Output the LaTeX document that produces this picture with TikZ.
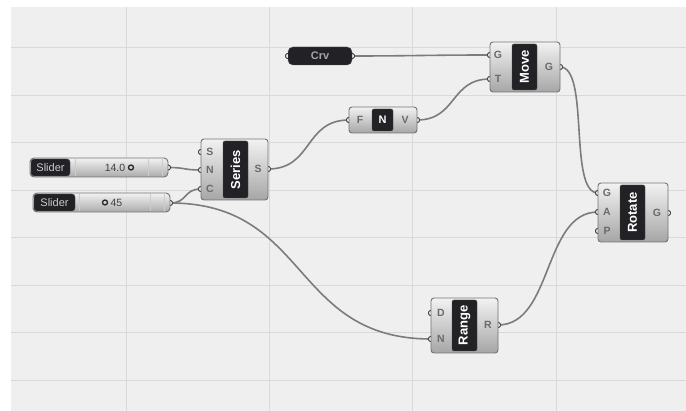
\documentclass[tikz,border=0pt]{standalone}
\usepackage{fontspec}
\setmainfont{Liberation Sans}
\definecolor{canvas}{HTML}{EFEFEF}
\definecolor{gridc}{HTML}{D9D9D9}
\definecolor{wirec}{HTML}{7C7C7C}
\definecolor{stripc}{HTML}{222226}
\definecolor{portlbl}{HTML}{6A6A6A}
\begin{document}
\begin{tikzpicture}[x=1pt,y=-1pt,
  wire/.style={draw=wirec,line width=1.6pt},
  gridline/.style={draw=gridc,line width=1pt},
  port/.style={circle,draw=black!80,fill=white,minimum size=5pt,inner sep=0pt,line width=0.8pt},
  gbox/.style={draw=black!55,rounded corners=3pt,top color=black!5,bottom color=black!35,line width=0.9pt,inner sep=0pt},
  strip/.style={draw=black!70,fill=stripc,rounded corners=2pt,inner sep=0pt},
  striptext/.style={text=white,font=\fontsize{13}{13}\selectfont\bfseries,inner sep=0pt},
  plbl/.style={text=portlbl,font=\fontsize{10.5}{10.5}\selectfont\bfseries,inner sep=0pt},
  slbody/.style={draw=black!55,rounded corners=4pt,top color=black!5,bottom color=black!33,line width=0.9pt,inner sep=0pt},
  sllabel/.style={draw=black!70,fill=stripc,rounded corners=3pt,inner sep=0pt,text=white!80!black,font=\fontsize{11}{11}\selectfont},
  valtext/.style={text=black!75,font=\fontsize{10.5}{10.5}\selectfont,inner sep=0pt},
  divider/.style={draw=black!20,line width=0.6pt},
  ring/.style={circle,draw=black!85,line width=1.3pt,minimum size=5pt,inner sep=0pt}]
\useasboundingbox (0,0) rectangle (686,411);
\fill[white] (0,0) rectangle (686,411);
\fill[canvas] (11,7) rectangle (686,411);
\foreach \gx in {126,269,412,556} \draw[gridline] (\gx,7) -- (\gx,411);
\foreach \gy in {48,96,143,191,238,286,333,381} \draw[gridline] (11,\gy) -- (686,\gy);

% ports
\node[port] (crvI) at (288,56) {};
\node[port] (crvO) at (352,56) {};
\node[port] (mvG) at (490,55) {};
\node[port] (mvT) at (490,79) {};
\node[port] (mvO) at (560,67) {};
\node[port] (nvF) at (349,120) {};
\node[port] (nvV) at (417,120) {};
\node[port] (seS) at (201,152) {};
\node[port] (seN) at (201,170) {};
\node[port] (seC) at (201,189) {};
\node[port] (seO) at (268,169) {};
\node[port] (roG) at (598,193) {};
\node[port] (roA) at (598,212) {};
\node[port] (roP) at (598,231) {};
\node[port] (roO) at (668,213) {};
\node[port] (raD) at (431,313) {};
\node[port] (raN) at (431,339) {};
\node[port] (raO) at (498,325) {};
\node[port] (slaO) at (168,167.5) {};
\node[port] (slbO) at (170,203) {};

% wires
\draw[wire] (crvO.center) .. controls +(60,0) and +(-60,0) .. (mvG.center);
\draw[wire] (nvV.center) .. controls +(40,0) and +(-40,0) .. (mvT.center);
\draw[wire] (seO.center) .. controls +(45,0) and +(-45,0) .. (nvF.center);
\draw[wire] (slaO.center) .. controls +(18,0) and +(-18,0) .. (seN.center);
\draw[wire] (slbO.center) .. controls +(18,0) and +(-18,0) .. (seC.center);
\draw[wire] (slbO.center) .. controls +(140,0) and +(-140,0) .. (raN.center);
\draw[wire] (mvO.center) .. controls +(30,0) and +(-30,0) .. (roG.center);
\draw[wire] (raO.center) .. controls +(55,0) and +(-55,0) .. (roA.center);

% redraw ports on top of wires
\foreach \p in {crvI,crvO,mvG,mvT,mvO,nvF,nvV,seS,seN,seC,seO,roG,roA,roP,roO,raD,raN,raO,slaO,slbO}
  \draw[draw=black!80,fill=white,line width=0.8pt] (\p) circle (2.5pt);

% Crv
\node[draw=black!70,fill=stripc,rounded corners=5pt,minimum width=64pt,minimum height=18pt,inner sep=0pt,
  text=black!35,font=\fontsize{11}{11}\selectfont\bfseries] (crv) at (320,56) {Crv};

% Move
\node[gbox,minimum width=70pt,minimum height=50pt] (move) at (525,67) {};
\node[strip,minimum width=25pt,minimum height=46pt] (moveS) at (524.5,67) {};
\node[striptext,rotate=90] (moveT) at (524.5,67) {Move};
\node[plbl] (mvGl) at (498,55) {G};
\node[plbl] (mvTl) at (498,79) {T};
\node[plbl] (mvOl) at (549,67) {G};

% F N V
\node[gbox,minimum width=68pt,minimum height=26pt] (nv) at (383,120) {};
\node[strip,minimum width=21pt,minimum height=22pt,text=white,font=\fontsize{11}{11}\selectfont\bfseries] (nvS) at (382.5,120) {N};
\node[plbl] (nvFl) at (360,120) {F};
\node[plbl] (nvVl) at (405,120) {V};

% Series
\node[gbox,minimum width=67pt,minimum height=61pt] (series) at (234.5,169.5) {};
\node[strip,minimum width=25pt,minimum height=57pt] (seriesS) at (235.5,169.5) {};
\node[striptext,rotate=90] (seriesT) at (235.5,169.5) {Series};
\node[plbl] (seSl) at (210,152) {S};
\node[plbl] (seNl) at (210,170) {N};
\node[plbl] (seCl) at (210,189) {C};
\node[plbl] (seOl) at (258,169) {S};

% Rotate
\node[gbox,minimum width=70pt,minimum height=59pt] (rotate) at (633,212.5) {};
\node[strip,minimum width=25pt,minimum height=55pt] (rotateS) at (632.5,212.5) {};
\node[striptext,rotate=90] (rotateT) at (632.5,212.5) {Rotate};
\node[plbl] (roGl) at (607,193) {G};
\node[plbl] (roAl) at (607,212) {A};
\node[plbl] (roPl) at (607,231) {P};
\node[plbl] (roOl) at (657,213) {G};

% Range
\node[gbox,minimum width=67pt,minimum height=55pt] (range) at (464.5,325.5) {};
\node[strip,minimum width=25pt,minimum height=51pt] (rangeS) at (464.5,325.5) {};
\node[striptext,rotate=90] (rangeT) at (464.5,325.5) {Range};
\node[plbl] (raDl) at (441,313) {D};
\node[plbl] (raNl) at (441,339) {N};
\node[plbl] (raOl) at (488,325) {R};

% Slider 1
\node[slbody,minimum width=138pt,minimum height=19pt] (sla) at (99,167.5) {};
\draw[divider] (75,159) -- (75,176) (148,159) -- (148,176) (162,159) -- (162,176);
\node[sllabel,minimum width=39pt,minimum height=17pt] (slaL) at (50.5,167.5) {Slider};
\node[valtext] (slaV) at (115,167.5) {14.0};
\node[ring] (slaR) at (131,167.5) {};

% Slider 2
\node[slbody,minimum width=137pt,minimum height=19pt] (slb) at (101.5,202.5) {};
\draw[divider] (79,194) -- (79,211) (150,194) -- (150,211) (164,194) -- (164,211);
\node[sllabel,minimum width=41pt,minimum height=17pt] (slbL) at (54.5,202.5) {Slider};
\node[ring] (slbR) at (105,202.5) {};
\node[valtext] (slbV) at (116.5,202.5) {45};
\end{tikzpicture}
\end{document}
